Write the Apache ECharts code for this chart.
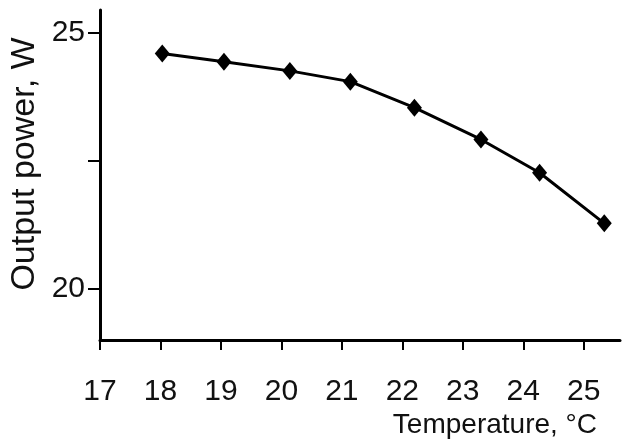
<!DOCTYPE html>
<html>
<head>
<meta charset="utf-8">
<script src="https://cdn.jsdelivr.net/npm/echarts@6/dist/echarts.min.js"></script>
<style>html,body{margin:0;padding:0;background:#fff}#c{width:625px;height:448px}</style>
</head>
<body>
<div id="c"></div>
<script>
// Data
var temperature = [18.03, 19.05, 20.14, 21.14, 22.20, 23.30, 24.27, 25.34];
var outputPower = [24.60, 24.44, 24.26, 24.05, 23.54, 22.92, 22.27, 21.28];
var xTickValues = [17, 18, 19, 20, 21, 22, 23, 24, 25];
var yTickValues = [20, 22.5, 25];
var yLabelValues = [20, 25];
var xTitle = 'Temperature, °C';
var yTitle = 'Output power, W';

var chart = echarts.init(document.getElementById('c'));
var tickFont = '"Liberation Sans Narrow", "Liberation Sans", Arial, sans-serif';
var titleFont = '"Liberation Sans", Arial, sans-serif';
chart.setOption({
  animation: false,
  backgroundColor: '#fff',
  grid: { left: 100, right: 5, top: 10, bottom: 108, containLabel: false },
  xAxis: {
    type: 'value', min: 17, max: 25.6,
    axisLine: { show: true, onZero: false, lineStyle: { color: '#000', width: 3 } },
    axisTick: { show: true, customValues: xTickValues, length: 10, lineStyle: { color: '#000', width: 2 } },
    axisLabel: { customValues: xTickValues, margin: 37, color: '#111', fontSize: 30, fontFamily: tickFont },
    splitLine: { show: false }
  },
  yAxis: {
    type: 'value', min: 19, max: 25.45,
    axisLine: { show: true, onZero: false, lineStyle: { color: '#000', width: 3 } },
    axisTick: { show: true, customValues: yTickValues, length: 12, lineStyle: { color: '#000', width: 2 } },
    axisLabel: { customValues: yLabelValues, margin: 15, color: '#111', fontSize: 30, fontFamily: tickFont },
    splitLine: { show: false }
  },
  graphic: [
    { type: 'text', right: 28, top: 411, style: { text: xTitle, fill: '#111', font: '28px ' + titleFont } },
    { type: 'text', x: 25, y: 164, rotation: Math.PI / 2,
      style: { text: yTitle, fill: '#111', font: '34px ' + titleFont, align: 'center', verticalAlign: 'middle' } }
  ],
  series: [{
    type: 'line',
    data: temperature.map(function (t, i) { return [t, outputPower[i]]; }),
    symbol: 'diamond', symbolSize: [15, 18],
    lineStyle: { color: '#000', width: 3 },
    itemStyle: { color: '#000' }
  }]
});
</script>
</body>
</html>
